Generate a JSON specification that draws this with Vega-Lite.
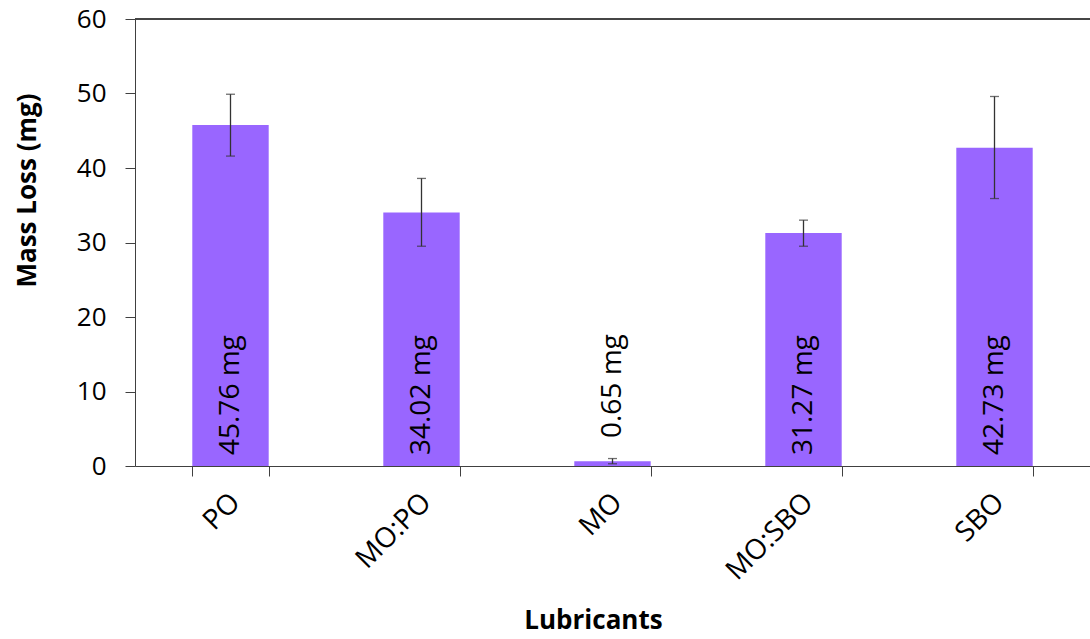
{
  "$schema": "https://vega.github.io/schema/vega-lite/v6.json",
  "autosize": "none",
  "width": 955,
  "height": 447,
  "padding": {"left": 135, "top": 19, "right": 0, "bottom": 173},
  "background": "white",
  "config": {
    "view": {"stroke": null},
    "font": "Open Sans"
  },
  "data": {
    "values": [
      {"lub": "PO", "mass": 45.76, "lo": 41.6, "hi": 49.9, "label": "45.76 mg"},
      {"lub": "MO:PO", "mass": 34.02, "lo": 29.5, "hi": 38.6, "label": "34.02 mg"},
      {"lub": "MO", "mass": 0.65, "lo": 0.3, "hi": 1.0, "label": "0.65 mg"},
      {"lub": "MO:SBO", "mass": 31.27, "lo": 29.5, "hi": 33.0, "label": "31.27 mg"},
      {"lub": "SBO", "mass": 42.73, "lo": 35.9, "hi": 49.6, "label": "42.73 mg"}
    ]
  },
  "encoding": {
    "x": {
      "field": "lub",
      "type": "nominal",
      "sort": null,
      "scale": {"paddingInner": 0.6, "paddingOuter": 0.3},
      "axis": {
        "title": "Lubricants",
        "titleFont": "Open Sans",
        "titleFontSize": 26,
        "titleFontWeight": "bold",
        "titleColor": "#000",
        "titleX": 458,
        "titleY": 154,
        "titleBaseline": "middle",
        "labelAngle": -45,
        "labelAlign": "right",
        "labelBaseline": "middle",
        "labelFontSize": 28,
        "labelColor": "#000",
        "labelPadding": 22,
        "labelOffset": 5,
        "tickBand": "extent",
        "tickSize": 10,
        "tickColor": "#404040",
        "domainColor": "#404040",
        "grid": false
      }
    }
  },
  "layer": [
    {
      "mark": {"type": "rule", "color": "#404040", "strokeWidth": 1},
      "encoding": {"y": {"datum": 60}, "x": null}
    },
    {
      "mark": {"type": "bar", "color": "#9966ff"},
      "encoding": {
        "y": {
          "field": "mass",
          "type": "quantitative",
          "scale": {"domain": [0, 60], "nice": false},
          "axis": {
            "title": "Mass Loss (mg)",
            "titleFont": "Open Sans",
            "titleFontSize": 26,
            "titleFontWeight": "bold",
            "titleColor": "#000",
            "titleX": -108,
            "titleY": 171,
            "titleAngle": -90,
            "titleAlign": "center",
            "titleBaseline": "middle",
            "values": [0, 10, 20, 30, 40, 50, 60],
            "labelFontSize": 26,
            "labelColor": "#000",
            "labelPadding": 19,
            "tickSize": 10,
            "tickColor": "#404040",
            "domainColor": "#404040",
            "grid": false
          }
        }
      }
    },
    {
      "mark": {"type": "rule", "color": "#333", "strokeWidth": 1.3},
      "encoding": {
        "y": {"field": "lo", "type": "quantitative"},
        "y2": {"field": "hi"}
      }
    },
    {
      "mark": {"type": "tick", "color": "#333", "size": 9, "thickness": 1.3},
      "encoding": {"y": {"field": "lo", "type": "quantitative"}}
    },
    {
      "mark": {"type": "tick", "color": "#333", "size": 9, "thickness": 1.3},
      "encoding": {"y": {"field": "hi", "type": "quantitative"}}
    },
    {
      "transform": [{"filter": "datum.lub !== 'MO'"}],
      "mark": {"type": "text", "angle": 270, "align": "left", "baseline": "middle", "dx": 11, "fontSize": 28, "color": "#000"},
      "encoding": {
        "y": {"datum": 0, "type": "quantitative"},
        "text": {"field": "label"}
      }
    },
    {
      "transform": [{"filter": "datum.lub === 'MO'"}],
      "mark": {"type": "text", "angle": 270, "align": "left", "baseline": "middle", "dx": 28, "fontSize": 28, "color": "#000"},
      "encoding": {
        "y": {"datum": 0, "type": "quantitative"},
        "text": {"field": "label"}
      }
    }
  ]
}
